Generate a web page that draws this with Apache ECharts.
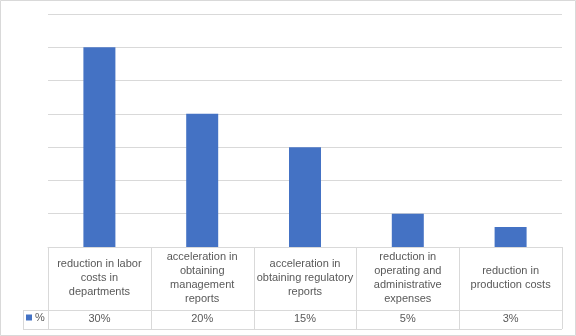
<!DOCTYPE html>
<html>
<head>
<meta charset="utf-8">
<script src="https://cdn.jsdelivr.net/npm/echarts@6/dist/echarts.min.js"></script>
<style>
html,body{margin:0;padding:0;background:#fff;}
#c{width:576px;height:336px;}
</style>
</head>
<body>
<div id="c"></div>
<script>
const seriesName = '%';
const categories = [
  'reduction in labor costs in departments',
  'acceleration in obtaining management reports',
  'acceleration in obtaining regulatory reports',
  'reduction in operating and administrative expenses',
  'reduction in production costs'
];
const categoryLabels = [
  'reduction in labor\ncosts in\ndepartments',
  'acceleration in\nobtaining\nmanagement\nreports',
  'acceleration in\nobtaining regulatory\nreports',
  'reduction in\noperating and\nadministrative\nexpenses',
  'reduction in\nproduction costs'
];
const values = [30, 20, 15, 5, 3];
const valueLabels = ['30%', '20%', '15%', '5%', '3%'];

const W = 576, H = 336;
const gl = 48, gr = 562, gt = 14, gb = 247;
const row1 = 310, row2 = 329, legL = 23;
const lineCol = '#d9d9d9';
const txt = '#595959';
const font = 'Liberation Sans';

const graphics = [];
graphics.push({type:'rect', shape:{x:0.5,y:0.5,width:W-1,height:H-1}, style:{fill:'none', stroke:lineCol, lineWidth:1}, silent:true});
const colW = (gr - gl) / categories.length;
for (let k = 0; k <= categories.length; k++) {
  const x = Math.round(gl + k * colW) + 0.5;
  graphics.push({type:'line', shape:{x1:x,y1:gb,x2:x,y2:row2}, style:{stroke:lineCol, lineWidth:1}, silent:true});
}
graphics.push({type:'line', shape:{x1:legL+0.5,y1:row1,x2:legL+0.5,y2:row2}, style:{stroke:lineCol, lineWidth:1}, silent:true});
graphics.push({type:'line', shape:{x1:legL,y1:row1+0.5,x2:gr,y2:row1+0.5}, style:{stroke:lineCol, lineWidth:1}, silent:true});
graphics.push({type:'line', shape:{x1:legL,y1:row2+0.5,x2:gr,y2:row2+0.5}, style:{stroke:lineCol, lineWidth:1}, silent:true});

const chart = echarts.init(document.getElementById('c'), null, {renderer:'canvas'});
chart.setOption({
  animation: false,
  backgroundColor: '#fff',
  textStyle: {fontFamily: font},
  grid: {left: gl, right: W - gr, top: gt, bottom: H - gb, containLabel: false},
  legend: {
    data: [seriesName], left: 26, top: 312, padding: 0,
    icon: 'rect', itemWidth: 6, itemHeight: 6, itemGap: 2,
    textStyle: {color: txt, fontSize: 11, fontFamily: font, padding:[0,0,0,-2]}
  },
  xAxis: [
    {
      type: 'category', data: categories, position: 'bottom',
      axisLine: {show: true, lineStyle: {color: lineCol}},
      axisTick: {show: false},
      axisLabel: {
        interval: 0, margin: 31, verticalAlign: 'middle', align: 'center',
        color: txt, fontSize: 11, lineHeight: 14.3, fontFamily: font,
        formatter: (v, i) => categoryLabels[i]
      }
    },
    {
      type: 'category', data: categories, position: 'bottom',
      axisLine: {show: false}, axisTick: {show: false},
      axisLabel: {
        interval: 0, margin: 72, verticalAlign: 'middle', align: 'center',
        color: txt, fontSize: 11, fontFamily: font,
        formatter: (v, i) => valueLabels[i]
      }
    }
  ],
  yAxis: {
    type: 'value', min: 0, max: 35, interval: 5,
    axisLabel: {show: false}, axisLine: {show: false}, axisTick: {show: false},
    splitLine: {lineStyle: {color: lineCol, width: 1}}
  },
  series: [{
    name: seriesName, type: 'bar', data: values, barWidth: 32,
    itemStyle: {color: '#4472C4'}
  }],
  graphic: graphics
});
</script>
</body>
</html>
